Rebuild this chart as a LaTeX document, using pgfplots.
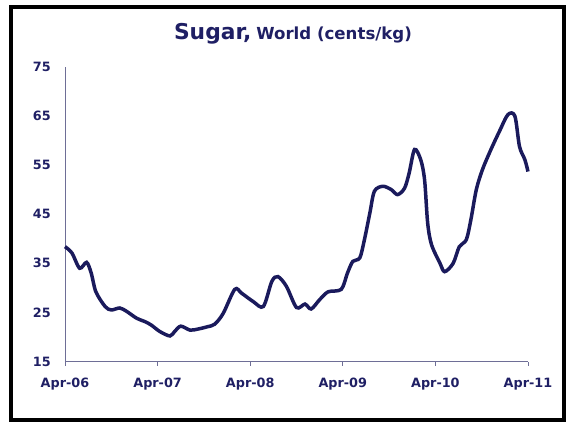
\documentclass[border=0pt]{standalone}
\usepackage{pgfplots}
\pgfplotsset{compat=1.18}
\usepackage{fontspec}
\setmainfont{DejaVu Sans}
\definecolor{navytext}{RGB}{31,31,100}
\definecolor{navyline}{RGB}{26,26,92}
\definecolor{axisgray}{RGB}{110,110,150}
\begin{document}
\begin{tikzpicture}[x=1pt,y=1pt]
\useasboundingbox (-65,-62.5) rectangle (503,361.5);
\draw[black, line width=3.5pt] (-54,-58.5) rectangle (499,354.5);
\begin{axis}[
  at={(0,0)}, anchor=south west,
  width=463pt, height=294.5pt, scale only axis,
  xmin=0, xmax=60, ymin=15, ymax=75,
  axis x line=bottom, axis y line=left,
  axis line style={-, draw=axisgray, line width=0.9pt},
  xtick={0,12,24,36,48,60},
  xticklabels={Apr-06,Apr-07,Apr-08,Apr-09,Apr-10,Apr-11},
  ytick={15,25,35,45,55,65,75},
  xtick align=outside,
  major tick length=4pt,
  x tick style={draw=axisgray, line width=0.9pt},
  y tick style={draw=none},
  /pgf/number format/assume math mode=true,
  tick label style={font=\fontsize{12.8}{12.8}\selectfont\bfseries, text=navytext},
  yticklabel style={anchor=east, inner sep=0pt, xshift=-12pt},
  xticklabel style={anchor=north, inner sep=0pt, yshift=-12pt},
  clip=false,
]
\addplot[navyline, line width=3.5pt, smooth, tension=0.5] coordinates {
(0,38.4) (0.9,37.1) (1.9,34.0) (2.8,35.2) (3.4,33.0) (4.0,29.2) (5.2,26.2)
(6.0,25.5) (7.1,25.9) (8.0,25.2) (9.3,23.8) (10.4,23.1) (11.2,22.4)
(12.3,21.1) (13.6,20.2) (14.2,21.1) (15.0,22.2) (16.2,21.4) (17.2,21.6)
(18.5,22.1) (19.4,22.6) (20.5,24.8) (22.0,29.7) (22.9,28.9) (24.4,27.2)
(25.7,26.2) (26.8,31.3) (27.6,32.3) (28.7,30.3) (30.0,26.0) (31.1,26.7)
(31.9,25.7) (33.0,27.6) (34.1,29.2) (35.8,29.7) (36.6,33.0) (37.3,35.4)
(38.2,36.1) (38.8,39.8) (39.5,45.2) (40.1,49.7) (41.2,50.7) (42.3,50.0)
(43.1,49.0) (44.0,50.3) (44.6,53.4) (45.3,58.2) (46.1,56.1) (46.6,52.0)
(47.0,43.2) (47.5,38.8) (48.6,35.0) (49.2,33.3) (50.3,35.0) (51.1,38.4)
(52.0,39.8) (52.6,43.9) (53.3,50.0) (54.1,54.1) (55.2,58.2) (56.3,61.9)
(57.4,65.3) (58.3,65.0) (58.9,58.8) (59.6,56.1) (60.0,53.7)
};
\end{axis}
\node[anchor=base, text=navytext, inner sep=0pt] at (228,321.5)
  {\bfseries{\fontsize{21.8}{21.8}\selectfont Sugar,}\hspace{5pt}{\fontsize{16.6}{16.6}\selectfont World (cents/kg)}};
\end{tikzpicture}
\end{document}
